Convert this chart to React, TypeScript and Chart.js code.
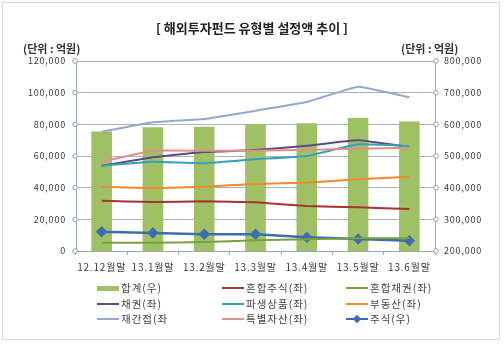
import React, { useEffect, useRef } from "react";
import { Chart, registerables } from "chart.js";

Chart.register(...registerables);

const categories = ["12.12월말", "13.1월말", "13.2월말", "13.3월말", "13.4월말", "13.5월말", "13.6월말"];

const totalRight = [576700, 589400, 591600, 600100, 602000, 619000, 608300]; // 합계(우)
const mixedStock = [31770, 30950, 31390, 30760, 28420, 27600, 26530]; // 혼합주식(좌)
const mixedBond = [5240, 5240, 5680, 6760, 7390, 8020, 8020]; // 혼합채권(좌)
const bond = [53870, 59180, 62530, 63790, 66500, 69920, 65680]; // 채권(좌)
const derivative = [53870, 56400, 55390, 57920, 60000, 67390, 66320]; // 파생상품(좌)
const realEstate = [40610, 39600, 40610, 42320, 43140, 45280, 46930]; // 부동산(좌)
const fundOfFunds = [75350, 81280, 83370, 88610, 94110, 103770, 97070]; // 재간접(좌)
const specialAsset = [56400, 63350, 63350, 63350, 63790, 64610, 65240]; // 특별자산(좌)
const stockRight = [260950, 256840, 252740, 252740, 243260, 237890, 232530]; // 주식(우)

const COLORS = {
  total: "#a0c066",
  mixedStock: "#a8332f",
  mixedBond: "#78a03e",
  bond: "#5e4a8a",
  derivative: "#33a2b8",
  realEstate: "#f08a2c",
  fundOfFunds: "#93a8cf",
  specialAsset: "#df9189",
  stock: "#3d6cb0",
};

const GRID = "#aab1bd";
const AXIS = "#98a6ba";
const TEXT = "#3a3a3a";
const FONT = "'Noto Sans CJK KR', 'Noto Sans', sans-serif";

const legendItems = [
  { label: "합계(우)", color: COLORS.total, kind: "bar" },
  { label: "혼합주식(좌)", color: COLORS.mixedStock, kind: "line" },
  { label: "혼합채권(좌)", color: COLORS.mixedBond, kind: "line" },
  { label: "채권(좌)", color: COLORS.bond, kind: "line" },
  { label: "파생상품(좌)", color: COLORS.derivative, kind: "line" },
  { label: "부동산(좌)", color: COLORS.realEstate, kind: "line" },
  { label: "재간접(좌", color: COLORS.fundOfFunds, kind: "line" },
  { label: "특별자산(좌)", color: COLORS.specialAsset, kind: "line" },
  { label: "주식(우)", color: COLORS.stock, kind: "marker" },
];

const spacing = {
  id: "spacing",
  beforeDraw(chart: any) {
    try {
      chart.ctx.letterSpacing = "0.8px";
    } catch (e) {}
  },
};

const tickCircles = {
  id: "tickCircles",
  afterDraw(chart: any) {
    const ctx = chart.ctx;
    const area = chart.chartArea;
    ctx.save();
    ctx.lineWidth = 1;
    ctx.strokeStyle = "#8da0bd";
    ctx.fillStyle = "#ffffff";
    const draw = (scale: any, x: number) => {
      scale.ticks.forEach((t: any) => {
        const y = scale.getPixelForValue(t.value);
        ctx.beginPath();
        ctx.arc(x, y, 2.3, 0, Math.PI * 2);
        ctx.fill();
        ctx.stroke();
      });
    };
    draw(chart.scales.y, area.left - 1);
    draw(chart.scales.y1, area.right + 1);
    ctx.restore();
  },
};

function line(label: string, data: number[], color: string, axis = "y") {
  return {
    type: "line" as const,
    label,
    data,
    yAxisID: axis,
    borderColor: color,
    backgroundColor: color,
    borderWidth: 2,
    pointRadius: 0,
    tension: 0.1,
    order: 1,
  };
}

export default function App() {
  const ref = useRef<HTMLCanvasElement | null>(null);

  useEffect(() => {
    if (!ref.current) return;
    const chart = new Chart(ref.current, {
      type: "bar",
      data: {
        labels: categories,
        datasets: [
          {
            type: "bar",
            label: "합계(우)",
            data: totalRight,
            yAxisID: "y1",
            backgroundColor: COLORS.total,
            barThickness: 20,
            order: 10,
          } as any,
          line("혼합주식(좌)", mixedStock, COLORS.mixedStock),
          line("혼합채권(좌)", mixedBond, COLORS.mixedBond),
          line("특별자산(좌)", specialAsset, COLORS.specialAsset),
          line("파생상품(좌)", derivative, COLORS.derivative),
          line("채권(좌)", bond, COLORS.bond),
          line("부동산(좌)", realEstate, COLORS.realEstate),
          line("재간접(좌", fundOfFunds, COLORS.fundOfFunds),
          {
            ...line("주식(우)", stockRight, COLORS.stock, "y1"),
            borderWidth: 2.5,
            pointRadius: 4,
            pointStyle: "rectRot",
            pointBackgroundColor: COLORS.stock,
            pointBorderColor: COLORS.stock,
            tension: 0,
          },
        ],
      },
      options: {
        responsive: false,
        animation: false,
        devicePixelRatio: 1,
        layout: { padding: { top: 61, left: 0, right: 0, bottom: 0 } },
        plugins: {
          legend: { display: false },
          title: { display: false },
          tooltip: { enabled: false },
        },
        scales: {
          x: {
            offset: true,
            grid: {
              offset: true,
              drawOnChartArea: false,
              drawTicks: true,
              tickLength: 4,
              color: AXIS,
            },
            border: { color: AXIS, width: 1 },
            ticks: {
              padding: 6,
              color: "#3a3a3a",
              maxRotation: 0,
              autoSkip: false,
              font: { family: FONT, size: 10, weight: "normal" },
            },
            afterFit(scale: any) {
              scale.height = 93;
            },
          },
          y: {
            position: "left",
            min: 0,
            max: 120000,
            grid: { color: GRID, drawTicks: false, lineWidth: 1 },
            border: { color: AXIS, width: 1 },
            ticks: {
              stepSize: 20000,
              padding: 10,
              color: TEXT,
              font: { family: FONT, size: 9 },
            },
            afterFit(scale: any) {
              scale.width = 76;
            },
          },
          y1: {
            position: "right",
            min: 200000,
            max: 800000,
            grid: { drawOnChartArea: false, drawTicks: false },
            border: { color: AXIS, width: 1 },
            ticks: {
              stepSize: 100000,
              padding: 9,
              color: TEXT,
              font: { family: FONT, size: 9 },
            },
            afterFit(scale: any) {
              scale.width = 69;
            },
          },
        },
      } as any,
      plugins: [spacing, tickCircles],
    });
    return () => chart.destroy();
  }, []);

  const cols = [97, 222, 346];
  const rows = [288, 304, 319];

  return (
    <div
      style={{
        position: "fixed",
        left: 0,
        top: 0,
        width: 504,
        height: 344,
        background: "#ffffff",
        fontFamily: FONT,
        color: TEXT,
        overflow: "hidden",
      }}
    >
      <div
        style={{
          position: "absolute",
          left: 2,
          top: 2,
          width: 498,
          height: 338,
          border: "1px solid #d8d8d8",
          boxSizing: "border-box",
        }}
      />
      <canvas
        ref={ref}
        width={504}
        height={344}
        style={{ position: "absolute", left: 0, top: 0, width: 504, height: 344 }}
      />
      <div
        style={{
          position: "absolute",
          left: 0,
          width: 504,
          top: 19,
          textAlign: "center",
          fontSize: 13,
          fontWeight: "bold",
          lineHeight: "18px",
          color: "#222",
        }}
      >
        [ 해외투자펀드 유형별 설정액 추이 ]
      </div>
      <div style={{ position: "absolute", left: 23, top: 41, fontSize: 11, fontWeight: "bold", lineHeight: "14px", color: "#333" }}>
        (단위 : 억원)
      </div>
      <div style={{ position: "absolute", left: 401, top: 41, fontSize: 11, fontWeight: "bold", lineHeight: "14px", color: "#333" }}>
        (단위 : 억원)
      </div>
      {legendItems.map((it, i) => {
        const x = cols[i % 3];
        const y = rows[Math.floor(i / 3)];
        return (
          <div key={it.label} style={{ position: "absolute", left: x, top: y - 8, height: 16, width: 130 }}>
            <div
              style={{
                position: "absolute",
                left: 0,
                top: it.kind === "bar" ? 6 : 7,
                width: 22,
                height: it.kind === "bar" ? 5 : 2,
                background: it.color,
              }}
            />
            {it.kind === "marker" && (
              <div
                style={{
                  position: "absolute",
                  left: 8,
                  top: 5,
                  width: 6,
                  height: 6,
                  background: it.color,
                  transform: "rotate(45deg)",
                }}
              />
            )}
            <div
              style={{
                position: "absolute",
                left: 24,
                top: 0,
                fontSize: 10.5,
                lineHeight: "16px",
                letterSpacing: 1,
                color: "#444",
                whiteSpace: "nowrap",
              }}
            >
              {it.label}
            </div>
          </div>
        );
      })}
    </div>
  );
}
